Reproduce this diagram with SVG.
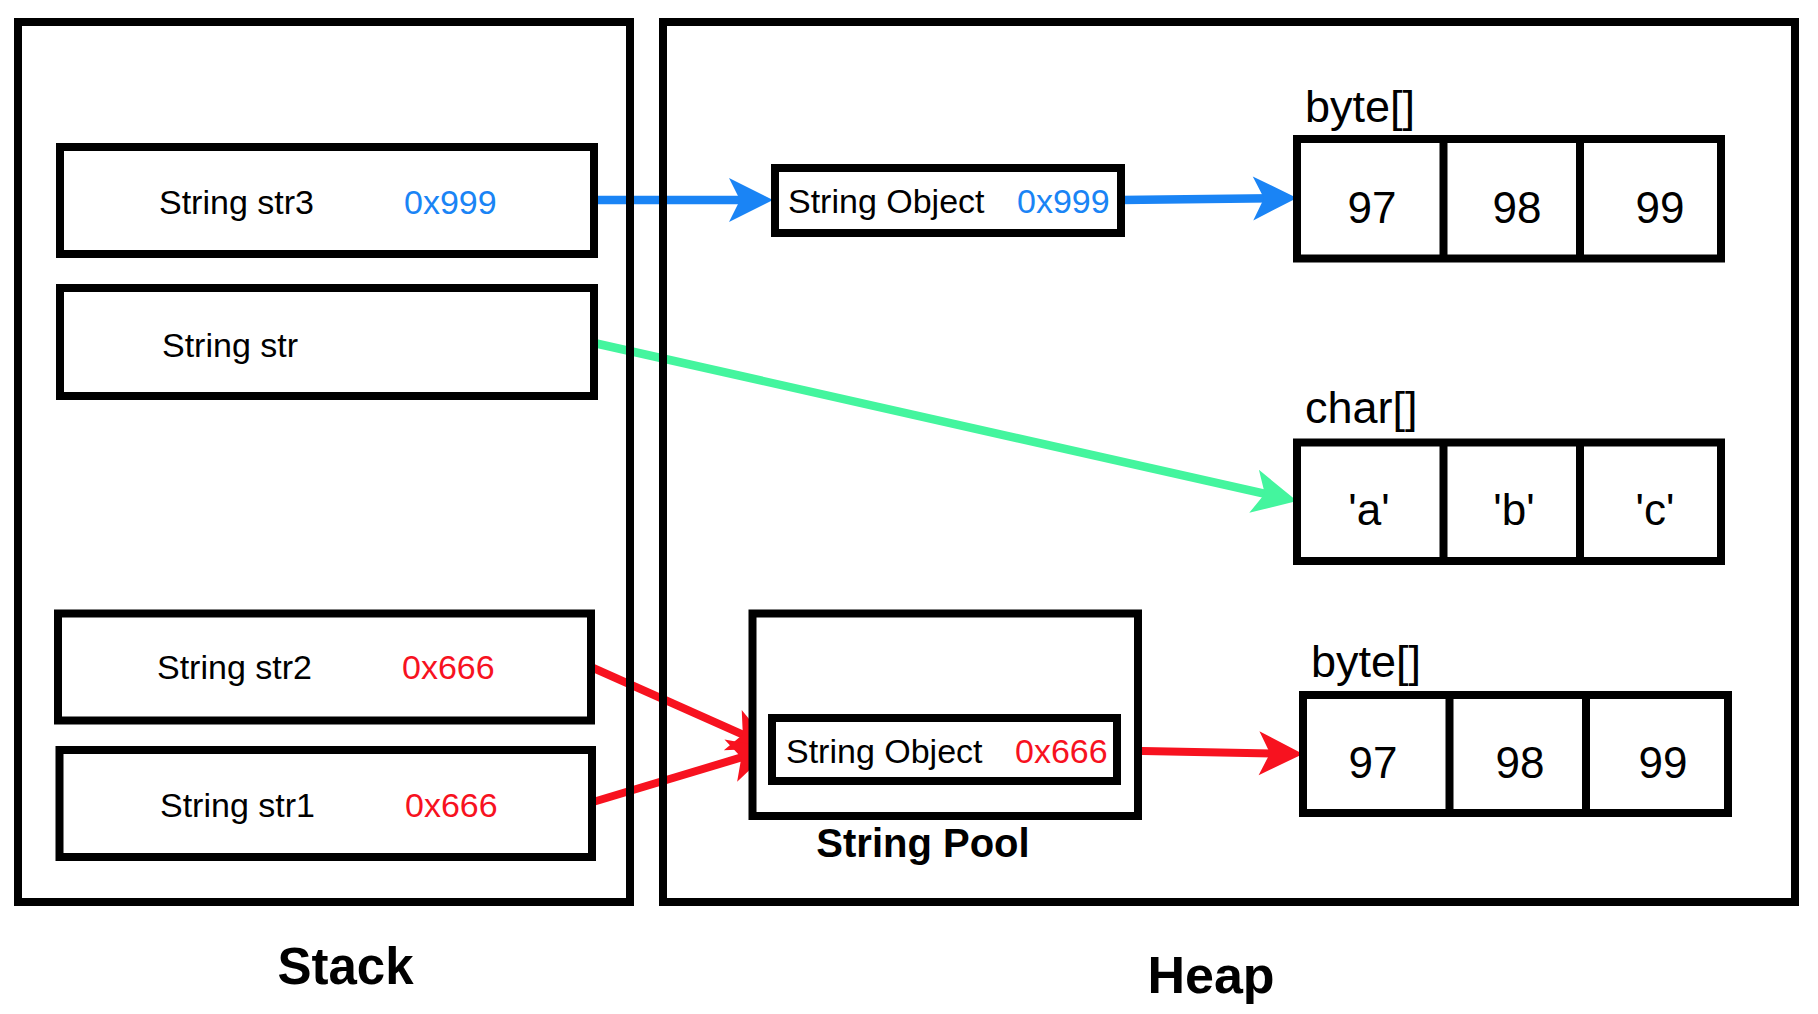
<svg xmlns="http://www.w3.org/2000/svg" width="1818" height="1014" viewBox="0 0 1818 1014">
<style>
  .box { fill: #ffffff; stroke: #000000; stroke-width: 8; }
  .frame { fill: none; stroke: #000000; stroke-width: 8; }
  .div { stroke: #000000; stroke-width: 8; }
  .t { font-family: "Liberation Sans", Arial, Helvetica, sans-serif; font-size: 34px; fill: #000000; }
  .big { font-family: "Liberation Sans", Arial, Helvetica, sans-serif; font-size: 44px; fill: #000000; }
  .lbl { font-family: "Liberation Sans", Arial, Helvetica, sans-serif; font-size: 45px; fill: #000000; }
  .bold { font-family: "Liberation Sans", Arial, Helvetica, sans-serif; font-weight: bold; fill: #000000; }
  .blue { fill: #1a84f5; }
  .red { fill: #f7121f; }
  .c-blue { stroke: #1a84f5; stroke-width: 8.5; fill: none; }
  .c-green { stroke: #44f59e; stroke-width: 8.5; fill: none; }
  .c-red { stroke: #f7121f; stroke-width: 8; fill: none; }
</style>
<defs>
  <marker id="ab" markerUnits="userSpaceOnUse" markerWidth="60" markerHeight="60" refX="-20" refY="0" orient="auto" overflow="visible">
    <path d="M0,0 L-44,-22 L-33,0 L-44,22 Z" fill="#1a84f5"/>
  </marker>
  <marker id="ag" markerUnits="userSpaceOnUse" markerWidth="60" markerHeight="60" refX="-20" refY="0" orient="auto" overflow="visible">
    <path d="M0,0 L-44,-22 L-33,0 L-44,22 Z" fill="#44f59e"/>
  </marker>
  <marker id="ar" markerUnits="userSpaceOnUse" markerWidth="60" markerHeight="60" refX="-20" refY="0" orient="auto" overflow="visible">
    <path d="M0,0 L-44,-22 L-33,0 L-44,22 Z" fill="#f7121f"/>
  </marker>
</defs>
<rect x="0" y="0" width="1818" height="1014" fill="#ffffff"/>

<g id="connectors">
  <line class="c-blue" x1="594" y1="200" x2="753" y2="200" marker-end="url(#ab)"/>
  <line class="c-blue" x1="1121" y1="200" x2="1277" y2="198.2" marker-end="url(#ab)"/>
  <line class="c-green" x1="594" y1="343" x2="1277.5" y2="496.6" marker-end="url(#ag)"/>
  <line class="c-red" x1="591" y1="667" x2="754.7" y2="739.9" marker-end="url(#ar)"/>
  <line class="c-red" x1="593" y1="802" x2="753.8" y2="753.7" marker-end="url(#ar)"/>
  <line class="c-red" x1="1117" y1="750.5" x2="1283" y2="753.6" marker-end="url(#ar)"/>
</g>

<g id="stack">
  <rect class="frame" x="18" y="22" width="612" height="880"/>
  <text class="bold" x="345.5" y="984" font-size="51" text-anchor="middle">Stack</text>
</g>

<g id="heap">
  <rect class="frame" x="663" y="22" width="1132" height="880"/>
  <text class="bold" x="1211" y="993" font-size="52" text-anchor="middle">Heap</text>
</g>

<g id="str3">
  <rect class="box" x="60" y="147" width="534" height="107"/>
  <text class="t" x="159" y="214">String str3</text>
  <text class="t blue" x="404" y="214">0x999</text>
</g>

<g id="str">
  <rect class="box" x="60" y="288" width="534" height="108"/>
  <text class="t" x="162" y="357">String str</text>
</g>

<g id="str2">
  <rect class="box" x="58" y="613.5" width="533" height="107"/>
  <text class="t" x="157" y="679">String str2</text>
  <text class="t red" x="402" y="679">0x666</text>
</g>

<g id="str1">
  <rect class="box" x="59.5" y="750" width="532.5" height="107"/>
  <text class="t" x="160" y="817">String str1</text>
  <text class="t red" x="405" y="817">0x666</text>
</g>

<g id="stringObject999">
  <rect class="box" x="775" y="168" width="346" height="65"/>
  <text class="t" x="788" y="213">String Object</text>
  <text class="t blue" x="1017" y="213">0x999</text>
</g>

<g id="byteArray1">
  <text class="lbl" x="1305" y="122">byte[]</text>
  <rect class="box" x="1297" y="139" width="424" height="119.5"/>
  <line class="div" x1="1443.5" y1="139" x2="1443.5" y2="258.5"/>
  <line class="div" x1="1580" y1="139" x2="1580" y2="258.5"/>
  <text class="big" x="1372" y="223" text-anchor="middle">97</text>
  <text class="big" x="1517" y="223" text-anchor="middle">98</text>
  <text class="big" x="1660" y="223" text-anchor="middle">99</text>
</g>

<g id="charArray">
  <text class="lbl" x="1305" y="423">char[]</text>
  <rect class="box" x="1297" y="442.5" width="424" height="118.5"/>
  <line class="div" x1="1443.5" y1="442.5" x2="1443.5" y2="561"/>
  <line class="div" x1="1580" y1="442.5" x2="1580" y2="561"/>
  <text class="big" x="1369" y="525" text-anchor="middle">'a'</text>
  <text class="big" x="1514" y="525" text-anchor="middle">'b'</text>
  <text class="big" x="1655" y="525" text-anchor="middle">'c'</text>
</g>

<g id="stringPool">
  <rect class="box" x="752.5" y="613.5" width="385.5" height="202.5"/>
  <text class="bold" x="923" y="857" font-size="40" text-anchor="middle">String Pool</text>
</g>

<g id="stringObject666">
  <rect class="box" x="772" y="718" width="345" height="63"/>
  <text class="t" x="786" y="763">String Object</text>
  <text class="t red" x="1015" y="763">0x666</text>
</g>

<g id="byteArray2">
  <text class="lbl" x="1311" y="677">byte[]</text>
  <rect class="box" x="1303" y="695" width="425" height="118"/>
  <line class="div" x1="1449.5" y1="695" x2="1449.5" y2="813"/>
  <line class="div" x1="1586" y1="695" x2="1586" y2="813"/>
  <text class="big" x="1373" y="778" text-anchor="middle">97</text>
  <text class="big" x="1520" y="778" text-anchor="middle">98</text>
  <text class="big" x="1663" y="778" text-anchor="middle">99</text>
</g>
</svg>
